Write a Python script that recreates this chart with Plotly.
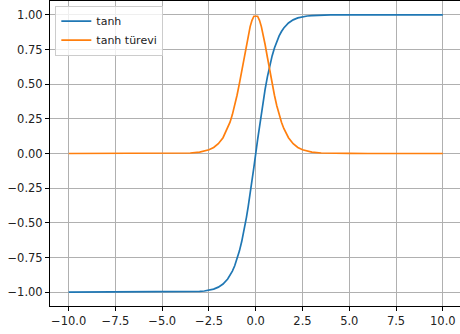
import plotly.graph_objects as go

x_vals = [-10, -8, -6, -5, -4, -3.5, -3, -2.75, -2.5, -2.25, -2, -1.75, -1.5, -1.375, -1.25, -1.125, -1,
          -0.875, -0.75, -0.625, -0.5, -0.4, -0.3, -0.2, -0.1,
          0.1, 0.2, 0.3, 0.4, 0.5, 0.625, 0.75, 0.875,
          1, 1.125, 1.25, 1.375, 1.5, 1.75, 2, 2.25, 2.5, 2.75, 3, 3.5, 4, 5, 6, 8, 10]
tanh_vals = [-1.0, -1.0, -1.0, -0.9999, -0.9993, -0.9982, -0.9951, -0.9919, -0.9866, -0.9780, -0.9640, -0.9414,
             -0.9051, -0.8799, -0.8483, -0.8095, -0.7616,
             -0.7040, -0.6351, -0.5546, -0.4621, -0.3799, -0.2913, -0.1974, -0.0997,
             0.0997, 0.1974, 0.2913, 0.3799, 0.4621, 0.5546, 0.6351, 0.7040,
             0.7616, 0.8095, 0.8483, 0.8799, 0.9051, 0.9414, 0.9640, 0.9780, 0.9866, 0.9919, 0.9951, 0.9982,
             0.9993, 0.9999, 1.0, 1.0, 1.0]
deriv_vals = [0.0, 0.0, 0.0, 0.0002, 0.0013, 0.0036, 0.0099, 0.0163, 0.0266, 0.0436, 0.0707, 0.1138,
              0.1807, 0.2258, 0.2805, 0.3447, 0.4200,
              0.5044, 0.5966, 0.6924, 0.7864, 0.8556, 0.9151, 0.9610, 0.9901,
              0.9901, 0.9610, 0.9151, 0.8556, 0.7864, 0.6924, 0.5966, 0.5044,
              0.4200, 0.3447, 0.2805, 0.2258, 0.1807, 0.1138, 0.0707, 0.0436, 0.0266, 0.0163, 0.0099, 0.0036,
              0.0013, 0.0002, 0.0, 0.0, 0.0]
series_names = ["tanh", "tanh türevi"]
x_ticks = [-10, -7.5, -5, -2.5, 0, 2.5, 5, 7.5, 10]
y_ticks = [-1, -0.75, -0.5, -0.25, 0, 0.25, 0.5, 0.75, 1]

fig = go.Figure()
fig.add_trace(go.Scatter(x=x_vals, y=tanh_vals, mode="lines", name=series_names[0],
                         line=dict(color="#1f77b4", width=1.7)))
fig.add_trace(go.Scatter(x=x_vals, y=deriv_vals, mode="lines", name=series_names[1],
                         line=dict(color="#ff7f0e", width=1.7)))

axis_common = dict(showline=True, linecolor="black", linewidth=1, mirror=True,
                   showgrid=True, gridcolor="#b0b0b0", gridwidth=0.8,
                   ticks="outside", ticklen=4, tickcolor="black", zeroline=False,
                   automargin=False,
                   tickfont=dict(family="DejaVu Sans", size=11.5, color="#222"))
fig.update_xaxes(range=[-11, 10.92], tickvals=x_ticks, tickformat=".1f", **axis_common)
fig.update_yaxes(range=[-1.1, 1.1], tickvals=y_ticks, tickformat=".2f", **axis_common)

fig.update_layout(
    width=460, height=334,
    margin=dict(l=50, r=0, t=1, b=28),
    plot_bgcolor="white", paper_bgcolor="white",
    font=dict(family="DejaVu Sans", size=11.5, color="#222"),
    legend=dict(x=0.013, y=0.985, xanchor="left", yanchor="top",
                bgcolor="rgba(255,255,255,0.8)", bordercolor="#cccccc", borderwidth=1,
                font=dict(size=11), tracegroupgap=0, itemwidth=30),
    showlegend=True,
)

fig.write_html("out.html", config={"displayModeBar": False},
               post_script="document.body.style.margin='0';document.body.style.overflow='hidden';")
